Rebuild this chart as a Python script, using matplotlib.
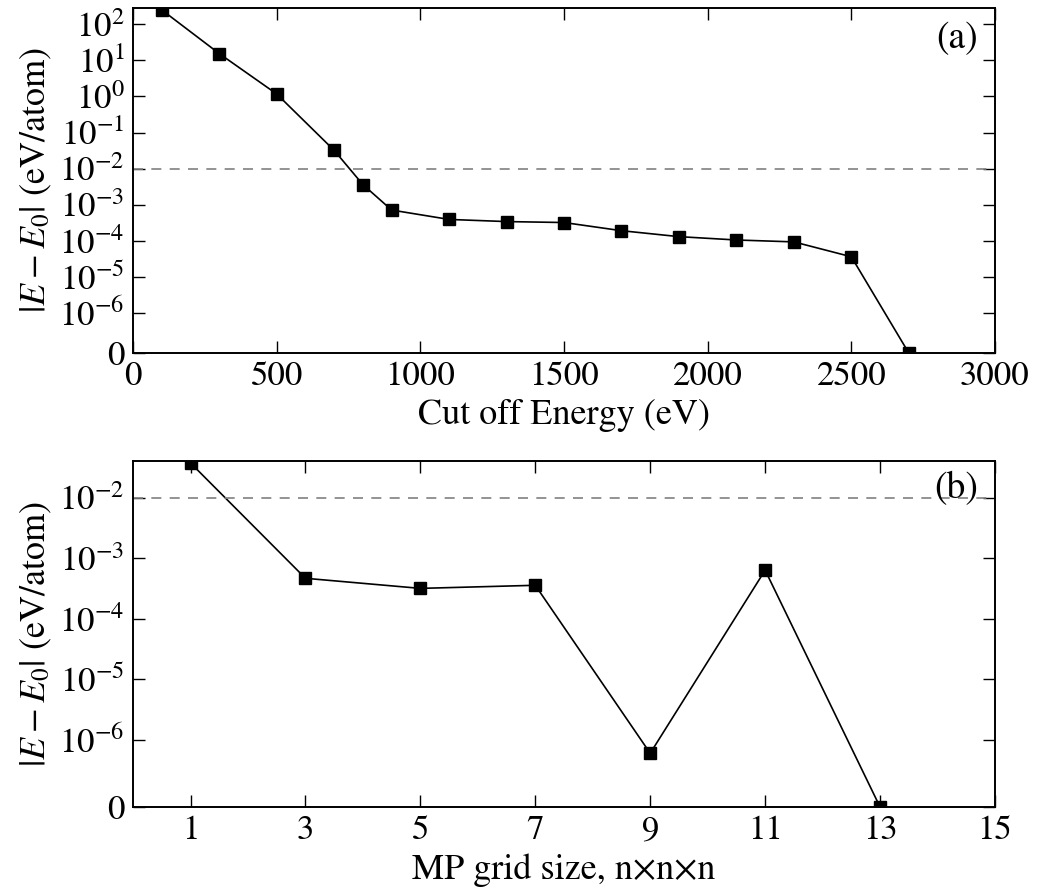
import numpy as np
import matplotlib
matplotlib.use("Agg")
import matplotlib.pyplot as plt

plt.rcParams['font.family'] = 'STIXGeneral'
plt.rcParams['mathtext.fontset'] = 'stix'

# cutoff energy convergence
cutoff = [100, 300, 500, 700, 800, 900, 1100, 1300, 1500, 1700, 1900, 2100, 2300, 2500, 2700]
dE_cutoff = [250, 15.4, 1.17, 0.032, 0.0036, 7.1e-4, 3.9e-4, 3.4e-4, 3.2e-4,
             1.9e-4, 1.3e-4, 1.05e-4, 9.3e-5, 3.6e-5, 0.0]

# k-point grid convergence
grid = [1, 3, 5, 7, 9, 11, 13]
dE_grid = [0.038, 4.7e-4, 3.2e-4, 3.6e-4, 8.0e-7, 6.4e-4, 0.0]

tol = 1e-2

fig = plt.figure(figsize=(10.41, 8.93), dpi=100)
ax1 = fig.add_axes([0.1278, 0.6047, 0.828, 0.3863])
ax2 = fig.add_axes([0.1278, 0.0963, 0.828, 0.3875])

def style(ax, yticks):
    ax.set_yscale('symlog', linthresh=1e-6, linscale=1)
    labels = ['0' if t == 0 else r'$10^{%d}$' % int(np.log10(t)) for t in yticks]
    ax.set_yticks(yticks)
    ax.set_yticklabels(labels)
    ax.yaxis.set_minor_locator(plt.NullLocator())
    ax.tick_params(direction='in', top=True, right=True, length=8.5, width=1,
                   labelsize=25, pad=6)
    for s in ax.spines.values():
        s.set_linewidth(1.4)
    ax.set_ylabel(r'$|E-E_0|$ (eV/atom)', fontsize=26, labelpad=4)

ax1.plot(cutoff, dE_cutoff, 'k-', marker='s', ms=8, lw=1.2, clip_on=True)
ax1.axhline(tol, color='gray', ls=(0, (6, 5)), lw=1.2)
style(ax1, [0] + [10.0**k for k in range(-6, 3)])
ax1.set_xlim(0, 3000)
ax1.set_ylim(0, 10**2.45)
ax1.set_xticks([0, 500, 1000, 1500, 2000, 2500, 3000])
ax1.set_xlabel('Cut off Energy (eV)', fontsize=26, labelpad=4)
ax1.text(0.98, 0.91, '(a)', transform=ax1.transAxes, ha='right', va='center', fontsize=27)

ax2.plot(grid, dE_grid, 'k-', marker='s', ms=8, lw=1.2)
ax2.axhline(tol, color='gray', ls=(0, (6, 5)), lw=1.2)
style(ax2, [0] + [10.0**k for k in range(-6, -1)])
ax2.set_xlim(0, 15)
ax2.set_ylim(0, 0.041)
ax2.set_xticks(range(1, 16, 2))
ax2.set_xlabel('MP grid size, n×n×n', fontsize=26, labelpad=4)
ax2.text(0.98, 0.92, '(b)', transform=ax2.transAxes, ha='right', va='center', fontsize=27)

fig.savefig('out.png', dpi=100)
